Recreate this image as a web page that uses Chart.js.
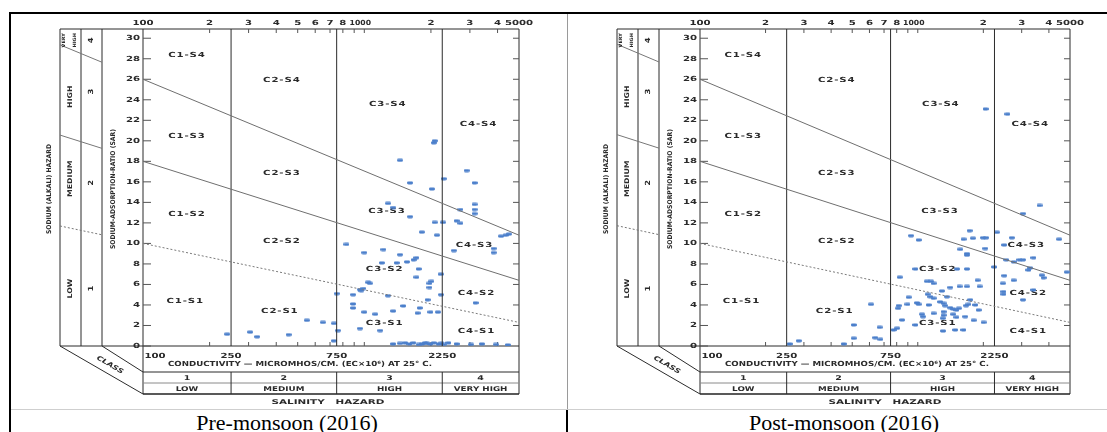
<!DOCTYPE html>
<html><head><meta charset="utf-8">
<script src="https://cdn.jsdelivr.net/npm/chart.js@4.4.1/dist/chart.umd.min.js"></script>
<style>
html,body{margin:0;padding:0;background:#fff;width:1107px;height:432px;overflow:hidden;position:relative}
canvas.cv{position:absolute;top:15px}
#c1{left:11px}
#c2{left:568px}
.ln{position:absolute}
.cap{position:absolute;top:412px;width:400px;text-align:center;font-family:'Liberation Serif','Times New Roman',serif;font-size:22px;line-height:22px;color:#000;white-space:nowrap}
</style></head>
<body>
<div class="ln" style="left:9px;top:12px;width:1098px;height:2px;background:#000"></div>
<div class="ln" style="left:9px;top:12px;width:2px;height:420px;background:#000"></div>
<div class="ln" style="left:567px;top:14px;width:1px;height:395px;background:#9a9a9a"></div>
<div class="ln" style="left:566px;top:409px;width:2px;height:23px;background:#000"></div>
<div class="ln" style="left:11px;top:409px;width:1096px;height:1px;background:#cfcfcf"></div>
<canvas id="c1" class="cv" width="555" height="393"></canvas>
<canvas id="c2" class="cv" width="555" height="393"></canvas>
<div class="cap" style="left:87px">Pre-monsoon (2016)</div>
<div class="cap" style="left:644px">Post-monsoon (2016)</div>
<script>
// ---------- data ----------
const ecRange = [100, 5000];
const sarRange = [0, 30.9];
const sarS1S2 = [10, 2.3];
const sarS2S3 = [18, 6.4];
const sarS3S4 = [26, 10.8];
const salinityBounds = [250, 750, 2250];

const sarTicks = [0,2,4,6,8,10,12,14,16,18,20,22,24,26,28,30];
const ecTopTickValues = [100,200,300,400,500,600,700,800,1000,2000,3000,4000,5000];
const ecTopTickLabels = ['100','2','3','4','5','6','7','8','1000','2','3','4','5000'];
const ecMinorTicks = [200,300,400,500,600,700,800,900,1000,2000,3000,4000];
const ecBottomTickValues = [100,250,750,2250];
const ecBottomTickLabels = ['100','250','750','2250'];
const salinityClassLabels = ['1','2','3','4'];
const salinityHazardLabels = ['LOW','MEDIUM','HIGH','VERY HIGH'];
const sodiumHazardLabels = ['LOW','MEDIUM','HIGH'];
const sodiumClassLabels = ['1','2','3','4'];

const regionLabels = ['C1-S4','C1-S3','C1-S2','C1-S1','C2-S4','C2-S3','C2-S2','C2-S1','C3-S4','C3-S3','C3-S2','C3-S1','C4-S4','C4-S3','C4-S2','C4-S1'];
const regionEC  = [158,158,158,155,424,424,424,415,1276,1265,1235,1235,3281,3147,3213,3213];
const regionSAR = [28.3,20.5,12.85,4.4,25.9,16.8,10.2,3.4,23.6,13.1,7.5,2.2,21.6,9.8,5.1,1.4];

const preEC = [
  2080,2060,1450,2900,2285,1610,3150,2020,3150,1280,
  1350,2720,3150,3150,1610,2080,2270,2610,2720,1820,
  2130,4150,4350,4500,830,2540,3840,3840,1000,1220,
  1450,1200,1400,1560,1670,1720,1760,2210,1720,2010,
  1970,1970,1040,1060,990,955,970,750,890,1280,
  2220,1930,3180,890,890,1500,1780,1000,1120,1350,
  1740,1990,2150,550,650,730,760,955,1180,240,
  305,328,455,728,
  1350,1450,1530,1600,1665,1760,1824,1880,1921,1986,
  2060,2168,2230,2282,2400,2612,3031,3400,3937,4450];
const preSAR = [
  20.0,19.8,18.1,17.1,16.3,15.9,15.9,15.3,13.8,13.9,
  13.5,13.3,13.3,12.9,12.6,12.05,12.05,12.2,11.96,11.1,
  10.8,10.7,10.8,10.9,9.9,9.3,9.5,9.1,9.1,9.4,
  8.9,8.1,8.1,8.2,8.4,8.6,7.5,7.0,6.7,6.3,
  6.1,5.7,6.2,6.1,5.6,5.5,5.4,5.1,5.0,4.9,
  5.0,4.5,4.2,4.1,3.7,3.9,3.7,3.3,3.1,3.4,
  3.2,3.3,3.3,2.5,2.3,2.2,1.5,1.7,1.5,1.15,
  1.35,0.9,1.1,0.5,
  0.2,0.25,0.3,0.2,0.3,0.15,0.2,0.3,0.25,0.2,
  0.3,0.2,0.25,0.15,0.3,0.2,0.15,0.2,0.15,0.1];

const postEC = [
  2047,2582,3622,3042,1730,2307,931,1009,1622,1791,
  1992,2060,2704,4457,2494,1567,1682,1682,2041,2547,
  2755,2931,3041,3399,2244,3282,3223,3715,3779,4832,
  2494,2755,2460,3399,2475,2475,3041,975,1514,1682,
  826,1101,1182,1150,1409,1555,1682,1922,1882,1291,
  908,1110,1143,1182,1361,1741,817,812,897,991,
  1009,1122,1268,1313,1336,1409,1455,1505,1545,1667,
  1709,1838,1902,1045,1057,1182,1313,1313,1303,1455,
  1505,1651,1805,2005,847,975,774,804,1306,1486,
  1621,610,508,668,508,638,673,457,258,284];
const postSAR = [
  23.1,22.6,13.7,12.9,11.24,11.08,10.75,10.33,10.4,10.5,
  10.55,10.55,10.55,10.4,9.84,9.42,9.0,8.85,9.5,8.4,
  8.2,8.4,8.4,8.6,7.7,7.6,7.4,6.9,6.65,7.2,
  6.85,6.4,6.1,5.46,5.3,5.04,4.5,7.5,7.5,7.5,
  6.7,6.3,6.1,6.3,5.7,5.8,5.8,5.8,6.4,5.36,
  4.75,5.04,4.8,4.65,4.8,4.5,3.93,3.67,4.06,4.2,
  4.06,4.0,4.3,4.16,3.93,3.73,3.6,3.5,3.67,3.93,
  4.06,4.0,3.5,3.09,2.86,3.18,3.34,3.0,2.7,3.09,
  2.8,2.86,2.5,2.3,2.53,2.05,1.56,1.73,1.46,1.56,
  1.56,4.06,2.05,1.82,0.75,0.81,0.65,0.2,0.2,0.5];

// ---------- drawing ----------
const FONT = "'DejaVu Sans', sans-serif";
function drawText(ctx, s, x, y, o) {
  o = o || {};
  ctx.save();
  ctx.translate(x, y);
  if (o.rot) ctx.rotate(o.rot);
  ctx.font = (o.style ? o.style + ' ' : '') + (o.weight || 'bold') + ' ' + (o.size || 7) + 'px ' + FONT;
  if ('letterSpacing' in ctx) ctx.letterSpacing = (o.ls || 0) + 'px';
  ctx.textBaseline = 'middle';
  ctx.textAlign = o.align || 'center';
  let sx = o.sx || 1.45;
  if (o.width) sx = o.width / ctx.measureText(s).width;
  ctx.scale(sx, 1);
  ctx.fillStyle = o.color || '#2a2a2a';
  ctx.fillText(s, 0, 0);
  ctx.restore();
}

const usslDecor = {
  id: 'usslDecor',
  beforeDatasetsDraw(chart) {
    const ctx = chart.ctx, a = chart.chartArea, xs = chart.scales.x, ys = chart.scales.y;
    const L = a.left, R = a.right, T = a.top, B = a.bottom;
    const X = v => xs.getPixelForValue(v), Y = v => ys.getPixelForValue(v);
    const ln = (x1, y1, x2, y2, col, w, dash) => {
      ctx.beginPath(); ctx.strokeStyle = col || '#2b2b2b'; ctx.lineWidth = w || 1;
      ctx.setLineDash(dash || []); ctx.moveTo(x1, y1); ctx.lineTo(x2, y2); ctx.stroke();
    };
    ctx.save();
    const s0 = L - 83, s1 = L - 62, s2 = L - 41;
    // frame of side bars and plot
    [s0, s1, s2, L, R].forEach(cx => ln(cx, T, cx, B));
    ln(s0, T, R, T); ln(s0, B, R, B);
    // CLASS diagonals
    ln(s0, B, L, B + 48); ln(s2, B, L, B + 26);
    // salinity table
    ln(L, B, L, B + 48); ln(R, B, R, B + 48);
    ln(L, B + 26, R, B + 26); ln(L, B + 37, R, B + 37, '#8a8a8a'); ln(L, B + 48, R, B + 48, '#222', 1.5);
    salinityBounds.forEach(v => ln(X(v), B + 26, X(v), B + 48));
    // side extensions of sodium hazard boundaries
    [sarS1S2, sarS2S3, sarS3S4].forEach((s, i) => {
      const x1 = X(ecRange[0]), y1 = Y(s[0]), x2 = X(ecRange[1]), y2 = Y(s[1]);
      const m = (y2 - y1) / (x2 - x1);
      ln(s0, y1 + m * (s0 - x1), s2, y1 + m * (s2 - x1), '#777', 1, i === 0 ? [2, 2] : []);
    });
    // ticks
    sarTicks.forEach(v => { ln(L, Y(v), L + 8, Y(v), '#555'); if (v > 0) ln(R, Y(v), R - 6, Y(v), '#555'); });
    ecMinorTicks.forEach(v => { ln(X(v), T, X(v), T + 4, '#555'); ln(X(v), B, X(v), B - 4, '#555'); });
    // tick labels
    sarTicks.forEach(v => drawText(ctx, String(v), L - 3, Y(v), {align: 'right', size: 7}));
    ecTopTickValues.forEach((v, i) => {
      const big = v === 1000;
      drawText(ctx, ecTopTickLabels[i], X(v) - (big ? 4 : 0), T - 6, {size: 7, sx: big ? 1.1 : 1.45});
    });
    ecBottomTickValues.forEach((v, i) => drawText(ctx, ecBottomTickLabels[i], v === 100 ? X(v) + 12 : X(v), B + 10, {size: 7}));
    drawText(ctx, 'CONDUCTIVITY \u2014 MICROMHOS/CM. (EC\u00d710\u2076) AT 25\u00b0 C.', L + 157, B + 18, {size: 7, width: 264});
    const edges = [ecRange[0]].concat(salinityBounds, [ecRange[1]]);
    salinityClassLabels.forEach((t, i) => {
      const cx = (X(edges[i]) + X(edges[i + 1])) / 2;
      drawText(ctx, t, cx, B + 32, {size: 6.5});
      drawText(ctx, salinityHazardLabels[i], cx, B + 43, {size: 6.5, sx: 1.35});
    });
    drawText(ctx, 'SALINITY   HAZARD', L + 185, B + 56, {size: 6.5, width: 113});
    // side texts
    const rot = -Math.PI / 2;
    drawText(ctx, 'SODIUM (ALKALI) HAZARD', L - 94, Y(15.3), {size: 6.5, rot, width: 90});
    drawText(ctx, 'SODIUM-ADSORPTION-RATIO (SAR)', L - 30, Y(15.3), {size: 6.5, rot, width: 120});
    const hz = [5.6, 16.3, 24.3];
    sodiumHazardLabels.forEach((t, i) => drawText(ctx, t, L - 73, Y(hz[i]), {size: 6.5, rot, sx: 1.2}));
    drawText(ctx, 'VERY', L - 79, Y(29.8), {size: 4.5, rot, sx: 1.1});
    drawText(ctx, 'HIGH', L - 68, Y(29.8), {size: 4.5, rot, sx: 1.1});
    const cl = [5.6, 15.9, 24.8, 29.8];
    sodiumClassLabels.forEach((t, i) => drawText(ctx, t, L - 52, Y(cl[i]), {size: 7, rot, sx: 1.2}));
    drawText(ctx, 'CLASS', L - 33, B + 19, {size: 6.5, rot: Math.PI / 6, sx: 1.3, style: 'italic'});
    // region labels
    regionLabels.forEach((t, i) => drawText(ctx, t, X(regionEC[i]), Y(regionSAR[i]), {size: 7, sx: 1.45, ls: 0.6}));
    ctx.restore();
  }
};

const dot = document.createElement('canvas');
dot.width = 6; dot.height = 4;
(function () {
  const g = dot.getContext('2d');
  g.fillStyle = '#4b7fcb';
  g.beginPath();
  if (g.roundRect) g.roundRect(0, 0.5, 6, 3, 1.4); else g.rect(0, 0.5, 6, 3);
  g.fill();
})();

function makeChart(id, ec, sar, padRight) {
  const datasets = [];
  [sarS1S2, sarS2S3, sarS3S4].forEach((s, i) => datasets.push({
    type: 'line', data: [{x: ecRange[0], y: s[0]}, {x: ecRange[1], y: s[1]}],
    borderColor: i === 0 ? '#7a7a7a' : '#6f6f6f', borderWidth: 1, borderDash: i === 0 ? [2, 2] : [],
    pointRadius: 0, fill: false
  }));
  salinityBounds.forEach(v => datasets.push({
    type: 'line', data: [{x: v, y: sarRange[0]}, {x: v, y: sarRange[1]}],
    borderColor: '#2b2b2b', borderWidth: 1, pointRadius: 0, fill: false
  }));
  datasets.push({
    type: 'scatter', data: ec.map((v, i) => ({x: v, y: sar[i]})),
    pointStyle: dot, pointRadius: 3, pointHoverRadius: 3
  });
  return new Chart(document.getElementById(id), {
    type: 'scatter',
    data: {datasets},
    options: {
      responsive: false, animation: false, devicePixelRatio: 1,
      layout: {padding: {left: 132, top: 14, right: padRight, bottom: 62}},
      scales: {
        x: {type: 'logarithmic', min: ecRange[0], max: ecRange[1], display: false},
        y: {type: 'linear', min: sarRange[0], max: sarRange[1], display: false}
      },
      plugins: {legend: {display: false}, tooltip: {enabled: false}},
      events: []
    },
    plugins: [usslDecor]
  });
}
makeChart('c1', preEC, preSAR, 47);
makeChart('c2', postEC, postSAR, 53);
</script>
</body></html>
